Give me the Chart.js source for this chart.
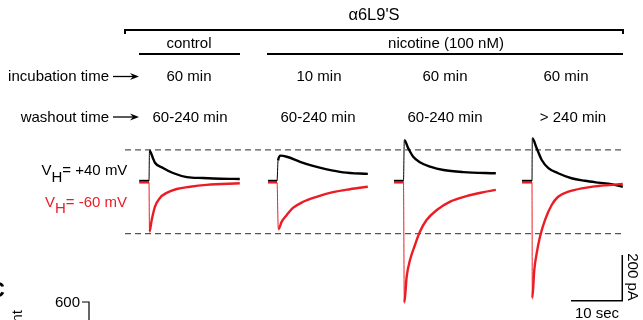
<!DOCTYPE html>
<html><head><meta charset="utf-8">
<script src="https://cdn.jsdelivr.net/npm/chart.js@4"></script>
<style>html,body{margin:0;padding:0;background:#fff;overflow:hidden}#wrap{width:643px;height:320px;position:relative}</style>
</head><body><div id="wrap"><canvas id="c" width="643" height="320"></canvas></div>
<script>
// ---- data (time in s relative to agonist onset, current in pA) ----
const conditions = ["control", "nicotine 10 min", "nicotine 60 min", "nicotine 60 min"];
const incubationTimes = ["60 min", "10 min", "60 min", "60 min"];
const washoutTimes = ["60-240 min", "60-240 min", "60-240 min", "> 240 min"];
const referenceLevels = [136, -230]; // pA, dashed lines

const control_plus40 = [[-1.9,0],[0,0],[0.1,133],[0.78,100],[1.17,80],[2.73,57],[4.68,35],[7.4,17],[10.5,13],[14,10],[17.7,9]];
const control_minus60 = [[-1.9,-6],[0,-6],[0.1,-222],[0.53,-171],[1.17,-112],[2.14,-74],[3.45,-52],[5.4,-35],[8.0,-25],[11.2,-17],[17.7,-10]];
const nic10_plus40 = [[-1.75,0],[0,0],[0.2,90],[0.72,111],[1.9,106],[4.5,84],[7.0,66],[9.7,51],[12.9,38],[17.7,31]];
const nic10_minus60 = [[-1.75,-6],[0,-6],[0.25,-211],[0.92,-178],[1.9,-149],[3.1,-118],[5.1,-91],[7.7,-69],[10.9,-49],[14.2,-36],[17.7,-25]];
const nic60_plus40 = [[-1.85,0],[0,0],[0.16,179],[0.94,143],[1.9,106],[3.2,82],[5.2,63],[7.8,48],[11.7,39],[18,34]];
const nic60_minus60 = [[-1.85,-6],[0,-6],[0.16,-533],[0.62,-419],[1.27,-346],[2.24,-280],[3.2,-222],[4.5,-171],[6.5,-127],[9.1,-90],[12.3,-66],[15.6,-49],[18,-39]];
const nic60long_plus40 = [[-1.95,0],[0,0],[0.06,187],[0.92,143],[1.9,92],[3.2,56],[5.1,34],[7.7,12],[10.3,1],[12.9,-7],[15.5,-14],[17.7,-25]];
const nic60long_minus60 = [[-1.95,-6],[0,-6],[0.06,-513],[0.45,-389],[0.92,-316],[1.56,-244],[2.53,-171],[3.84,-105],[5.1,-69],[7.1,-47],[9.7,-32],[12.9,-22],[17.7,-13]];

const scaleBarSec = 10;
const scaleBarPA = 200;

// ---- layout ----
const onsetSec = [29.04, 54.0, 78.65, 103.7];
const xRange = [0, 125.34], yRange = [-608.3, 792.1];
const dashStart = 24.37, dashEnd = 121.4;
const barCorner = {x: 121.3, y: -524};
const RED = "#ec1c24", BLACK = "#000000";

const plusTraces = [control_plus40, nic10_plus40, nic60_plus40, nic60long_plus40];
const minusTraces = [control_minus60, nic10_minus60, nic60_minus60, nic60long_minus60];

const datasets = [];
const thinOnset = (c) => (c.p0DataIndex === 1 ? 1 : undefined);
referenceLevels.forEach(v => datasets.push({
  data: [{x: dashStart, y: v}, {x: dashEnd, y: v}],
  borderColor: "#555", borderWidth: 1.2, borderDash: [6, 4], order: 5
}));
plusTraces.forEach((tr, i) => datasets.push({
  label: conditions[i] + " +40 mV",
  data: tr.map(([t, v]) => ({x: onsetSec[i] + t, y: v})),
  borderColor: BLACK, borderWidth: 2.4, cubicInterpolationMode: "monotone",
  segment: {borderWidth: thinOnset}, order: 3
}));
minusTraces.forEach((tr, i) => datasets.push({
  label: conditions[i] + " -60 mV",
  data: tr.map(([t, v]) => ({x: onsetSec[i] + t, y: v})),
  borderColor: RED, borderWidth: 2.4, cubicInterpolationMode: "monotone",
  segment: {borderWidth: thinOnset}, order: 2
}));
datasets.push({
  data: [{x: barCorner.x, y: barCorner.y + scaleBarPA}, {x: barCorner.x, y: barCorner.y}, {x: barCorner.x - scaleBarSec, y: barCorner.y}],
  borderColor: BLACK, borderWidth: 1.5, order: 1
});

const FONT = "'Liberation Sans', Arial, Helvetica, sans-serif";
function arrow(ctx, x1, x2, y) {
  ctx.beginPath(); ctx.moveTo(x1, y); ctx.lineTo(x2 - 4, y);
  ctx.lineWidth = 1.3; ctx.strokeStyle = "#000"; ctx.stroke();
  ctx.beginPath(); ctx.moveTo(x2, y); ctx.lineTo(x2 - 9, y - 3.6); ctx.lineTo(x2 - 6, y); ctx.lineTo(x2 - 9, y + 3.6); ctx.closePath();
  ctx.fillStyle = "#000"; ctx.fill();
}
const textPlugin = {
  id: "labels",
  afterDraw(chart) {
    const ctx = chart.ctx;
    ctx.save();
    ctx.fillStyle = "#000"; ctx.strokeStyle = "#000";
    ctx.textBaseline = "alphabetic";
    ctx.textAlign = "center";
    ctx.font = "16.5px " + FONT;
    ctx.fillText("\u03b16L9'S", 374, 20);
    ctx.font = "15px " + FONT;
    ctx.fillText("control", 189, 48);
    ctx.fillText("nicotine (100 nM)", 446, 48);
    // brackets
    ctx.lineWidth = 2;
    ctx.beginPath(); ctx.moveTo(125, 34); ctx.lineTo(125, 30); ctx.lineTo(623, 30); ctx.lineTo(623, 34); ctx.stroke();
    ctx.beginPath(); ctx.moveTo(139, 54); ctx.lineTo(240, 54); ctx.stroke();
    ctx.beginPath(); ctx.moveTo(267, 54); ctx.lineTo(623, 54); ctx.stroke();
    const incX = [189, 319, 445, 566], washX = [190, 318, 445, 573];
    incubationTimes.forEach((t, i) => ctx.fillText(t, incX[i], 81));
    washoutTimes.forEach((t, i) => ctx.fillText(t, washX[i], 121.5));
    ctx.textAlign = "right";
    ctx.fillText("incubation time", 109, 81);
    ctx.fillText("washout time", 109, 121.5);
    arrow(ctx, 113, 139, 76.5);
    arrow(ctx, 113, 139, 117);
    // VH labels
    function vh(x, y, rest, color) {
      ctx.fillStyle = color; ctx.textAlign = "left";
      ctx.fillText("V", x, y);
      let w = ctx.measureText("V").width;
      ctx.fillText("H", x + w, y + 6.7);
      w += ctx.measureText("H").width;
      ctx.fillText(rest, x + w, y);
    }
    vh(41.5, 175, "= +40 mV", BLACK);
    vh(45, 206.5, "= -60 mV", RED);
    ctx.fillStyle = "#000";
    // scale bar labels
    ctx.textAlign = "center";
    ctx.fillText(scaleBarSec + " sec", 597, 318);
    ctx.save(); ctx.translate(627.5, 277); ctx.rotate(Math.PI / 2);
    ctx.fillText(scaleBarPA + " pA", 0, 0); ctx.restore();
    // fragments of the next panel (cut off at the edge)
    ctx.textAlign = "right";
    ctx.fillText("600", 80, 307);
    ctx.lineWidth = 1.2;
    ctx.beginPath(); ctx.moveTo(82, 302); ctx.lineTo(89, 302); ctx.lineTo(89, 320); ctx.stroke();
    ctx.save(); ctx.translate(22, 310); ctx.rotate(-Math.PI / 2);
    ctx.textAlign = "right"; ctx.fillText("current", 0, 0); ctx.restore();
    ctx.font = "bold 22px " + FONT; ctx.textAlign = "left";
    ctx.fillText("C", -11, 297);
    ctx.restore();
  }
};

new Chart(document.getElementById("c"), {
  type: "line",
  data: {datasets},
  options: {
    responsive: false, animation: false, devicePixelRatio: 1,
    layout: {padding: 0},
    elements: {point: {radius: 0}},
    plugins: {legend: {display: false}, tooltip: {enabled: false}},
    scales: {
      x: {type: "linear", min: xRange[0], max: xRange[1], display: false},
      y: {type: "linear", min: yRange[0], max: yRange[1], display: false}
    }
  },
  plugins: [textPlugin]
});
</script></body></html>
